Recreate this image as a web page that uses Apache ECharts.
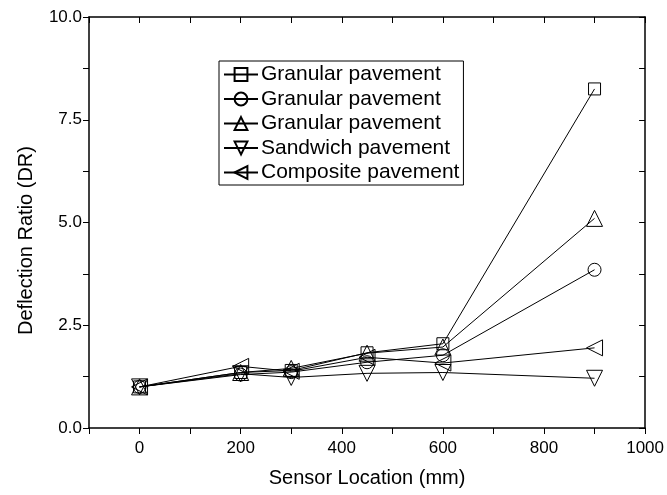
<!DOCTYPE html>
<html>
<head>
<meta charset="utf-8">
<script src="https://cdn.jsdelivr.net/npm/echarts@6/dist/echarts.min.js"></script>
<style>
    html, body { margin: 0; padding: 0; background: #fff; }
    #main { width: 667px; height: 495px; }
</style>
</head>
<body>
<div id="main"></div>
<script>
    // sensor positions (mm)
    var sensorLocation = [0, 200, 300, 450, 600, 900];

    var seriesNames = ['Granular pavement', 'Granular pavement ', 'Granular pavement  ', 'Sandwich pavement', 'Composite pavement'];

    var granularA = [1.0, 1.35, 1.40, 1.83, 2.05, 8.25];
    var granularB = [1.0, 1.30, 1.36, 1.60, 1.77, 3.85];
    var granularC = [1.0, 1.35, 1.45, 1.82, 1.97, 5.10];
    var sandwich  = [1.0, 1.32, 1.23, 1.33, 1.35, 1.21];
    var composite = [1.0, 1.50, 1.38, 1.72, 1.58, 1.95];

    var yTicks = [0, 2.5, 5, 7.5, 10];
    var xLabels = [0, 200, 400, 600, 800, 1000];

    var chartDom = document.getElementById('main');
    var myChart = echarts.init(chartDom);
    var font = 'Liberation Sans, Arial, sans-serif';

    function pairs(ys) {
        return sensorLocation.map(function (x, i) { return [x, ys[i]]; });
    }

    function makeSeries(name, ys, symbol, rotate, size) {
        return {
            name: name,
            type: 'line',
            data: pairs(ys),
            symbol: symbol,
            symbolSize: size,
            symbolRotate: rotate,
            showAllSymbol: true,
            lineStyle: { color: '#000', width: 1 },
            itemStyle: { color: 'rgba(255,255,255,0)', borderColor: '#000', borderWidth: 1 },
            emphasis: { disabled: true },
            animation: false,
            z: 3
        };
    }

    var xTickVals = [];
    for (var t = -100; t <= 1000; t += 100) xTickVals.push(t);
    var yMinorVals = [];
    for (var v = 0; v <= 10; v += 1.25) yMinorVals.push(v);

    var option = {
        backgroundColor: '#fff',
        textStyle: { fontFamily: font },
        legend: {
            orient: 'vertical',
            left: 219,
            top: 61,
            itemGap: 3.5,
            itemWidth: 34,
            itemHeight: 16,
            padding: [3, 4, 2, 4],
            borderColor: '#000',
            borderWidth: 1,
            textStyle: { fontFamily: font, fontSize: 21, color: '#000', padding: [0, 0, 0, -2] },
            data: seriesNames
        },
        grid: { left: 89, right: 18, top: 17, bottom: 67 },
        xAxis: [{
            type: 'value',
            min: -100,
            max: 1000,
            name: 'Sensor Location (mm)',
            nameLocation: 'middle',
            nameGap: 40,
            nameTextStyle: { fontFamily: font, fontSize: 20, color: '#000' },
            axisLine: { onZero: false, lineStyle: { color: '#000', width: 1.5 } },
            axisTick: { customValues: xTickVals, length: 6, lineStyle: { color: '#000' } },
            axisLabel: {
                customValues: xLabels, fontFamily: font, fontSize: 17, color: '#000', margin: 12,
                formatter: function (val) { return String(val); }
            },
            splitLine: { show: false }
        }, {
            type: 'value',
            position: 'top',
            min: -100,
            max: 1000,
            axisLine: { show: true, onZero: false, lineStyle: { color: '#000', width: 1.5 } },
            axisTick: { show: true, inside: true, customValues: xTickVals, length: 6, lineStyle: { color: '#000' } },
            axisLabel: { show: false },
            splitLine: { show: false }
        }],
        yAxis: [{
            type: 'value',
            min: 0,
            max: 10,
            name: 'Deflection Ratio (DR)',
            nameLocation: 'middle',
            nameGap: 53,
            nameTextStyle: { fontFamily: font, fontSize: 20, color: '#000', padding: [0, 36, 0, 0] },
            axisLine: { show: true, onZero: false, lineStyle: { color: '#000', width: 1.5 } },
            axisTick: { show: true, customValues: yMinorVals, length: 6, lineStyle: { color: '#000' } },
            axisLabel: {
                customValues: yTicks, fontFamily: font, fontSize: 17, color: '#000', margin: 7,
                formatter: function (val) { return val.toFixed(1); }
            },
            splitLine: { show: false }
        }, {
            type: 'value',
            position: 'right',
            min: 0,
            max: 10,
            axisLine: { show: true, onZero: false, lineStyle: { color: '#000', width: 1.5 } },
            axisTick: { show: true, inside: true, customValues: yMinorVals, length: 6, lineStyle: { color: '#000' } },
            axisLabel: { show: false },
            splitLine: { show: false }
        }],
        series: [
            makeSeries(seriesNames[0], granularA, 'rect', 0, 12),
            makeSeries(seriesNames[1], granularB, 'circle', 0, 13),
            makeSeries(seriesNames[2], granularC, 'triangle', 0, 16),
            makeSeries(seriesNames[3], sandwich, 'triangle', 180, 16),
            makeSeries(seriesNames[4], composite, 'triangle', 90, 16)
        ]
    };

    option && myChart.setOption(option);
</script>
</body>
</html>
